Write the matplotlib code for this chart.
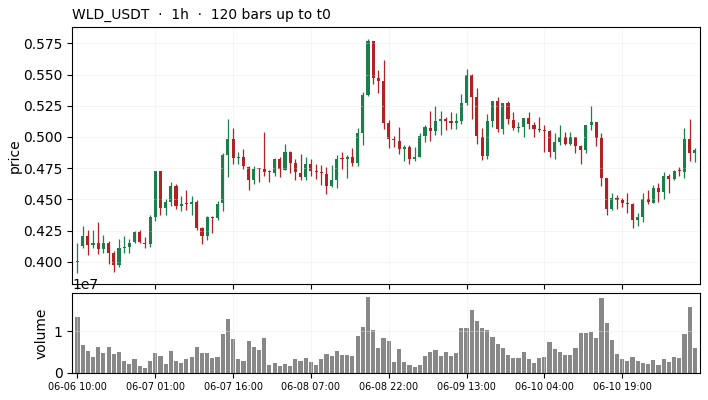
import numpy as np
import pandas as pd
import matplotlib
matplotlib.use("Agg")
import matplotlib.pyplot as plt

# hourly bars
times = pd.date_range("2024-06-06 10:00", periods=120, freq="h")

opens = [
    0.4000, 0.4125, 0.4210, 0.4133, 0.4152, 0.4098, 0.4152, 0.4067, 0.3970, 0.4112,
    0.4117, 0.4157, 0.4237, 0.4152, 0.4138, 0.4356, 0.4729, 0.4428, 0.4481, 0.4609,
    0.4450, 0.4466, 0.4460, 0.4481, 0.4269, 0.4205, 0.4356, 0.4348, 0.4468, 0.4857,
    0.4984, 0.4833, 0.4838, 0.4758, 0.4657, 0.4750, 0.4745, 0.4718, 0.4710, 0.4825,
    0.4737, 0.4880, 0.4795, 0.4710, 0.4676, 0.4782, 0.4720, 0.4711, 0.4705, 0.4604,
    0.4657, 0.4825, 0.4822, 0.4840, 0.4795, 0.5032, 0.5335, 0.5766, 0.5474, 0.5447,
    0.5114, 0.4978, 0.4971, 0.4907, 0.4920, 0.4827, 0.4843, 0.5011, 0.5072, 0.5051,
    0.5130, 0.5146, 0.5125, 0.5109, 0.5130, 0.5271, 0.5497, 0.5317, 0.5000, 0.4851,
    0.5128, 0.5287, 0.5061, 0.5269, 0.5136, 0.5074, 0.5082, 0.5149, 0.5096, 0.5055,
    0.5050, 0.5048, 0.4883, 0.4963, 0.4997, 0.4944, 0.4997, 0.4928, 0.4896, 0.5096,
    0.5117, 0.4992, 0.4673, 0.4423, 0.4511, 0.4495, 0.4466, 0.4463, 0.4335, 0.4356,
    0.4503, 0.4473, 0.4588, 0.4556, 0.4686, 0.4662, 0.4725, 0.4721, 0.4987, 0.4872,
]
highs = [
    0.4152, 0.4285, 0.4258, 0.4258, 0.4319, 0.4218, 0.4170, 0.4085, 0.4184, 0.4210,
    0.4184, 0.4250, 0.4253, 0.4200, 0.4372, 0.4729, 0.4729, 0.4503, 0.4641, 0.4625,
    0.4524, 0.4577, 0.4524, 0.4497, 0.4277, 0.4364, 0.4364, 0.4489, 0.4870, 0.5141,
    0.5069, 0.4883, 0.4902, 0.4763, 0.4763, 0.4750, 0.5037, 0.4737, 0.4830, 0.4838,
    0.4942, 0.4888, 0.4822, 0.4862, 0.4843, 0.4822, 0.4782, 0.4771, 0.4755, 0.4771,
    0.4856, 0.4883, 0.4856, 0.4910, 0.5069, 0.5362, 0.5787, 0.5766, 0.5540, 0.5620,
    0.5136, 0.5011, 0.5080, 0.4939, 0.4939, 0.4920, 0.5032, 0.5098, 0.5205, 0.5250,
    0.5205, 0.5157, 0.5200, 0.5192, 0.5343, 0.5543, 0.5503, 0.5391, 0.5072, 0.5184,
    0.5287, 0.5317, 0.5269, 0.5287, 0.5202, 0.5122, 0.5149, 0.5197, 0.5122, 0.5162,
    0.5096, 0.5056, 0.5029, 0.5096, 0.5043, 0.5037, 0.5003, 0.4936, 0.5096, 0.5247,
    0.5120, 0.5035, 0.4673, 0.4548, 0.4535, 0.4513, 0.4548, 0.4468, 0.4388, 0.4548,
    0.4574, 0.4614, 0.4628, 0.4721, 0.4702, 0.4734, 0.4761, 0.5072, 0.5146, 0.4912,
]
lows = [
    0.3912, 0.4106, 0.4051, 0.4106, 0.4064, 0.4072, 0.3979, 0.3920, 0.3957, 0.4072,
    0.4072, 0.4152, 0.4146, 0.4112, 0.4120, 0.4325, 0.4378, 0.4378, 0.4450, 0.4423,
    0.4404, 0.4412, 0.4378, 0.4258, 0.4144, 0.4178, 0.4231, 0.4335, 0.4410, 0.4678,
    0.4782, 0.4782, 0.4742, 0.4577, 0.4622, 0.4638, 0.4689, 0.4638, 0.4689, 0.4678,
    0.4731, 0.4710, 0.4652, 0.4657, 0.4657, 0.4683, 0.4665, 0.4612, 0.4545, 0.4596,
    0.4590, 0.4742, 0.4670, 0.4769, 0.4769, 0.4936, 0.5327, 0.5423, 0.5349, 0.5061,
    0.4910, 0.4920, 0.4864, 0.4811, 0.4785, 0.4811, 0.4840, 0.4960, 0.4965, 0.5019,
    0.5013, 0.5053, 0.5067, 0.5064, 0.5104, 0.5253, 0.5144, 0.4947, 0.4819, 0.4827,
    0.5077, 0.5043, 0.5021, 0.5101, 0.5056, 0.5043, 0.5000, 0.5064, 0.5000, 0.5040,
    0.4883, 0.4843, 0.4822, 0.4936, 0.4936, 0.4936, 0.4870, 0.4782, 0.4870, 0.5056,
    0.4928, 0.4609, 0.4375, 0.4415, 0.4420, 0.4436, 0.4394, 0.4274, 0.4287, 0.4322,
    0.4460, 0.4468, 0.4481, 0.4503, 0.4553, 0.4654, 0.4686, 0.4673, 0.4806, 0.4801,
]
closes = [
    0.4005, 0.4210, 0.4133, 0.4152, 0.4098, 0.4152, 0.4067, 0.3973, 0.4112, 0.4115,
    0.4152, 0.4237, 0.4157, 0.4138, 0.4356, 0.4729, 0.4428, 0.4481, 0.4609, 0.4450,
    0.4466, 0.4460, 0.4481, 0.4269, 0.4205, 0.4356, 0.4352, 0.4466, 0.4857, 0.4984,
    0.4830, 0.4838, 0.4763, 0.4657, 0.4745, 0.4745, 0.4716, 0.4715, 0.4825, 0.4742,
    0.4880, 0.4795, 0.4715, 0.4676, 0.4782, 0.4723, 0.4717, 0.4709, 0.4604, 0.4657,
    0.4824, 0.4823, 0.4843, 0.4795, 0.5032, 0.5335, 0.5766, 0.5474, 0.5450, 0.5114,
    0.4981, 0.4976, 0.4907, 0.4920, 0.4827, 0.4840, 0.5011, 0.5077, 0.5051, 0.5130,
    0.5146, 0.5125, 0.5109, 0.5130, 0.5271, 0.5497, 0.5317, 0.5005, 0.4851, 0.5130,
    0.5287, 0.5061, 0.5269, 0.5141, 0.5074, 0.5077, 0.5149, 0.5101, 0.5061, 0.5053,
    0.5048, 0.4883, 0.4963, 0.4997, 0.4944, 0.4997, 0.4931, 0.4896, 0.5096, 0.5122,
    0.4992, 0.4673, 0.4423, 0.4511, 0.4495, 0.4468, 0.4464, 0.4335, 0.4356, 0.4503,
    0.4476, 0.4588, 0.4556, 0.4686, 0.4662, 0.4726, 0.4723, 0.4987, 0.4875, 0.4894,
]
volumes = [
    1.357, 0.659, 0.524, 0.381, 0.611, 0.476, 0.611, 0.452, 0.500, 0.286,
    0.214, 0.325, 0.167, 0.119, 0.286, 0.476, 0.405, 0.214, 0.524, 0.286,
    0.238, 0.333, 0.381, 0.619, 0.476, 0.476, 0.357, 0.381, 0.929, 1.310,
    0.810, 0.333, 0.286, 0.778, 0.619, 0.540, 0.833, 0.190, 0.238, 0.167,
    0.214, 0.167, 0.333, 0.286, 0.357, 0.262, 0.190, 0.333, 0.452, 0.405,
    0.524, 0.429, 0.429, 0.405, 0.881, 1.119, 1.833, 1.024, 0.595, 0.833,
    0.758, 0.262, 0.563, 0.262, 0.190, 0.135, 0.190, 0.405, 0.500, 0.548,
    0.397, 0.500, 0.397, 0.476, 1.071, 1.071, 1.516, 1.254, 1.071, 1.040,
    0.857, 0.690, 0.595, 0.421, 0.357, 0.357, 0.500, 0.325, 0.230, 0.349,
    0.373, 0.738, 0.563, 0.500, 0.421, 0.421, 0.587, 0.968, 0.952, 0.992,
    0.833, 1.810, 1.206, 0.802, 0.444, 0.325, 0.286, 0.373, 0.286, 0.238,
    0.214, 0.302, 0.183, 0.325, 0.262, 0.373, 0.349, 0.929, 1.595, 0.595,
]  # in units of 1e7

o = np.array(opens)
h = np.array(highs)
l = np.array(lows)
c = np.array(closes)
v = np.array(volumes) * 1e7
x = np.arange(len(o))

up_col = "#1a7f4b"
down_col = "#b22222"
cols = np.where(c >= o, up_col, down_col)

fig = plt.figure(figsize=(7.08, 4.0), dpi=100)
ax = fig.add_axes([0.1021, 0.289, 0.8866, 0.6435])
axv = fig.add_axes([0.1021, 0.0683, 0.8866, 0.1985], sharex=ax)

# candles
ax.vlines(x, l, h, colors=cols, linewidth=0.9)
body = np.maximum(np.abs(c - o), 0.0008)
ax.bar(x, body, bottom=np.minimum(o, c), width=0.6, color=cols, linewidth=0)
ax.set_ylabel("price", labelpad=1)
ax.set_title("WLD_USDT  ·  1h  ·  120 bars up to t0", loc="left", fontsize=10)
ax.grid(True, color="#e8e8e8", linewidth=0.6, alpha=0.5)
ax.tick_params(labelbottom=False)

# volume
axv.bar(x, v, width=0.8, color="#888888")
axv.set_ylabel("volume")
axv.grid(True, color="#e8e8e8", linewidth=0.6, alpha=0.5)

tick_pos = x[::15]
axv.set_xticks(tick_pos)
axv.set_xticklabels([times[i].strftime("%m-%d %H:%M") for i in tick_pos], fontsize=7)
axv.set_xlim(-1, 120)

fig.savefig("out.png", dpi=100)
